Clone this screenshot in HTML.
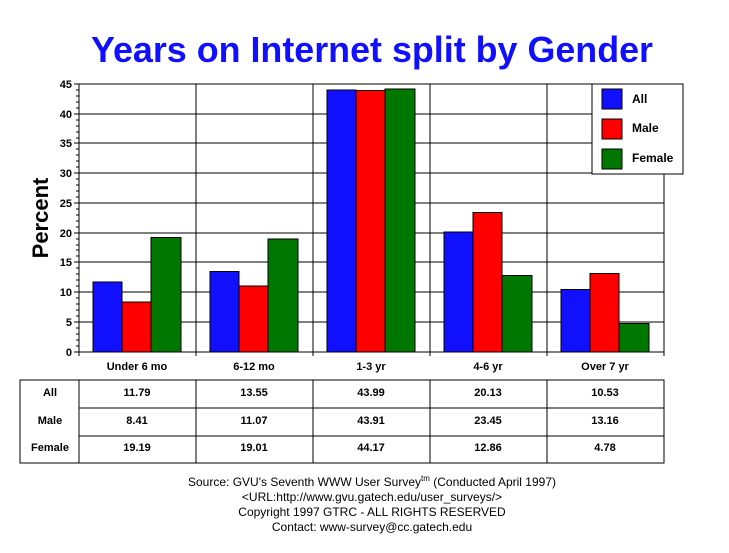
<!DOCTYPE html><html><head><style>body{margin:0;background:#fff}svg{display:block}text{font-family:"Liberation Sans",Arial,sans-serif}</style></head><body>
<svg width="729" height="553" xmlns="http://www.w3.org/2000/svg">
<text x="372" y="62" font-size="36" font-weight="bold" fill="#1010ff" text-anchor="middle" textLength="562" lengthAdjust="spacingAndGlyphs">Years on Internet split by Gender</text>
<g stroke="#000" stroke-width="1" shape-rendering="crispEdges">
<line x1="79" y1="84" x2="664" y2="84"/>
<line x1="79" y1="114" x2="664" y2="114"/><line x1="79" y1="143" x2="664" y2="143"/><line x1="79" y1="173" x2="664" y2="173"/><line x1="79" y1="203" x2="664" y2="203"/><line x1="79" y1="233" x2="664" y2="233"/><line x1="79" y1="262" x2="664" y2="262"/><line x1="79" y1="292" x2="664" y2="292"/><line x1="79" y1="322" x2="664" y2="322"/>
<line x1="79" y1="84" x2="79" y2="356"/><line x1="196" y1="84" x2="196" y2="356"/><line x1="313" y1="84" x2="313" y2="356"/><line x1="430" y1="84" x2="430" y2="356"/><line x1="547" y1="84" x2="547" y2="356"/><line x1="664" y1="84" x2="664" y2="356"/>
<line x1="74" y1="352" x2="664" y2="352"/>
<line x1="74" y1="84" x2="79" y2="84"/><line x1="74" y1="114" x2="79" y2="114"/><line x1="74" y1="143" x2="79" y2="143"/><line x1="74" y1="173" x2="79" y2="173"/><line x1="74" y1="203" x2="79" y2="203"/><line x1="74" y1="233" x2="79" y2="233"/><line x1="74" y1="262" x2="79" y2="262"/><line x1="74" y1="292" x2="79" y2="292"/><line x1="74" y1="322" x2="79" y2="322"/>
</g>
<path stroke="#000" fill="none" shape-rendering="crispEdges" d="M76 90H79M76 96H79M76 102H79M76 108H79M76 120H79M76 126H79M76 132H79M76 138H79M76 149H79M76 155H79M76 161H79M76 167H79M76 179H79M76 185H79M76 191H79M76 197H79M76 209H79M76 215H79M76 221H79M76 227H79M76 239H79M76 245H79M76 250H79M76 256H79M76 268H79M76 274H79M76 280H79M76 286H79M76 298H79M76 304H79M76 310H79M76 316H79M76 328H79M76 334H79M76 340H79M76 346H79"/>
<g font-size="11" font-weight="bold" text-anchor="end">
<text x="72" y="356">0</text><text x="72" y="326">5</text><text x="72" y="296">10</text><text x="72" y="266">15</text><text x="72" y="237">20</text><text x="72" y="207">25</text><text x="72" y="177">30</text><text x="72" y="147">35</text><text x="72" y="118">40</text><text x="72" y="88">45</text>
</g>
<text transform="translate(48,218) rotate(-90)" font-size="22" font-weight="bold" text-anchor="middle">Percent</text>
<g stroke="#000" shape-rendering="crispEdges">
<rect x="93" y="281.8" width="29" height="70.2" fill="#1010ff"/><rect x="122" y="301.9" width="29" height="50.1" fill="#f00"/><rect x="151" y="237.7" width="30" height="114.3" fill="#007800"/>
<rect x="210" y="271.3" width="29" height="80.7" fill="#1010ff"/><rect x="239" y="286.1" width="29" height="65.9" fill="#f00"/><rect x="268" y="238.8" width="30" height="113.2" fill="#007800"/>
<rect x="327" y="90" width="29" height="262" fill="#1010ff"/><rect x="356" y="90.5" width="29" height="261.5" fill="#f00"/><rect x="385" y="89" width="30" height="263" fill="#007800"/>
<rect x="444" y="232.1" width="29" height="119.9" fill="#1010ff"/><rect x="473" y="212.3" width="29" height="139.7" fill="#f00"/><rect x="502" y="275.4" width="30" height="76.6" fill="#007800"/>
<rect x="561" y="289.3" width="29" height="62.7" fill="#1010ff"/><rect x="590" y="273.6" width="29" height="78.4" fill="#f00"/><rect x="619" y="323.5" width="30" height="28.5" fill="#007800"/>
<rect x="592" y="84" width="91" height="90" fill="#fff"/>
<rect x="602" y="89" width="20" height="20" fill="#1010ff"/><rect x="602" y="119" width="20" height="20" fill="#f00"/><rect x="602" y="149" width="20" height="20" fill="#007800"/>
</g>
<g font-size="12" font-weight="bold"><text x="632" y="103">All</text><text x="632" y="132">Male</text><text x="632" y="162">Female</text></g>
<g font-size="11" font-weight="bold" text-anchor="middle">
<text x="137" y="370">Under 6 mo</text><text x="254" y="370">6-12 mo</text><text x="371" y="370">1-3 yr</text><text x="488" y="370">4-6 yr</text><text x="605" y="370">Over 7 yr</text>
</g>
<g stroke="#000" fill="none" shape-rendering="crispEdges">
<rect x="20" y="380" width="644" height="83"/>
<line x1="79" y1="380" x2="79" y2="463"/><line x1="196" y1="380" x2="196" y2="463"/><line x1="313" y1="380" x2="313" y2="463"/><line x1="430" y1="380" x2="430" y2="463"/><line x1="547" y1="380" x2="547" y2="463"/>
<line x1="79" y1="408" x2="664" y2="408"/><line x1="79" y1="436" x2="664" y2="436"/>
</g>
<g font-size="11" font-weight="bold" text-anchor="middle">
<text x="50" y="396">All</text><text x="50" y="424">Male</text><text x="50" y="451">Female</text>
<text x="137" y="396">11.79</text><text x="254" y="396">13.55</text><text x="371" y="396">43.99</text><text x="488" y="396">20.13</text><text x="605" y="396">10.53</text>
<text x="137" y="424">8.41</text><text x="254" y="424">11.07</text><text x="371" y="424">43.91</text><text x="488" y="424">23.45</text><text x="605" y="424">13.16</text>
<text x="137" y="451">19.19</text><text x="254" y="451">19.01</text><text x="371" y="451">44.17</text><text x="488" y="451">12.86</text><text x="605" y="451">4.78</text>
</g>
<g font-size="12" text-anchor="middle">
<text x="372" y="486">Source: GVU's Seventh WWW User Survey<tspan font-size="8" dy="-5">tm</tspan><tspan dy="5"> (Conducted April 1997)</tspan></text>
<text x="372" y="501">&lt;URL:http://www.gvu.gatech.edu/user_surveys/&gt;</text>
<text x="372" y="516">Copyright 1997 GTRC - ALL RIGHTS RESERVED</text>
<text x="372" y="531">Contact: www-survey@cc.gatech.edu</text>
</g>
</svg></body></html>
